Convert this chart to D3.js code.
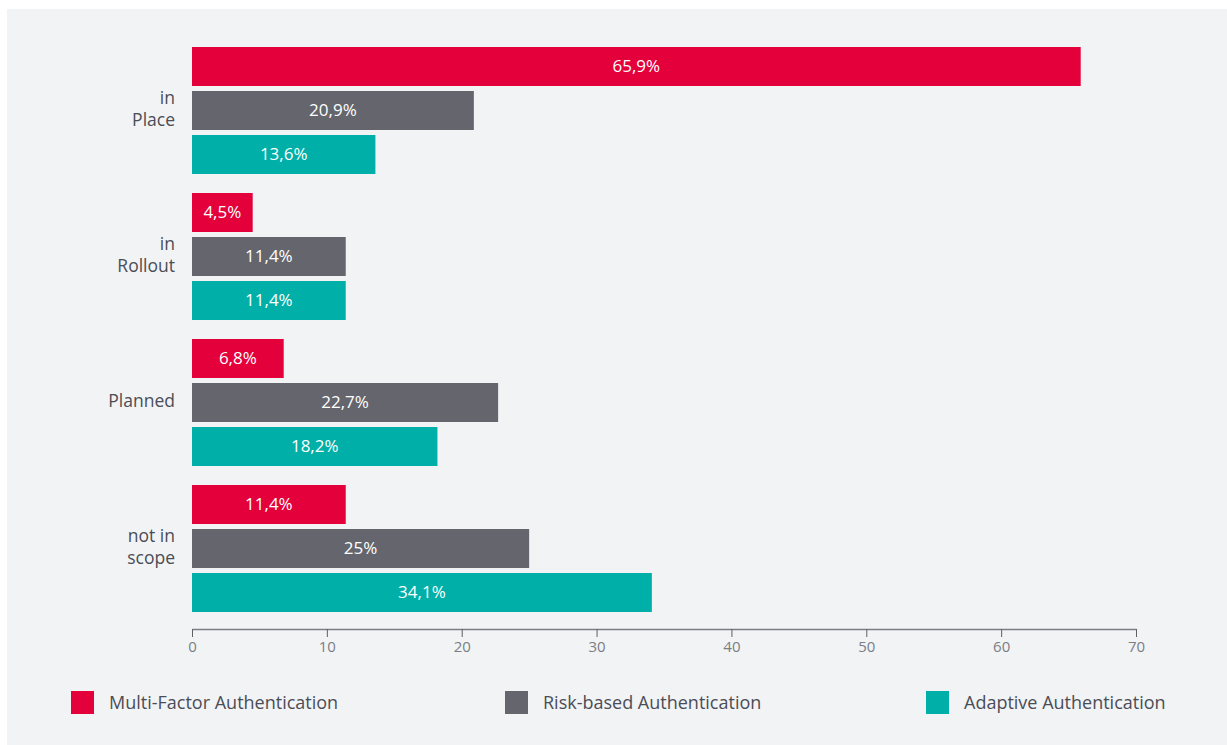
<!DOCTYPE html>
<html>
<head>
<meta charset="utf-8">
<script src="https://cdn.jsdelivr.net/npm/d3@7"></script>
<style>
  html, body { margin: 0; padding: 0; background: #ffffff; }
  svg { display: block; }
  text { font-family: "Open Sans", "Noto Sans", sans-serif; }
</style>
</head>
<body>
<svg id="chart" width="1227" height="745"></svg>
<script>
// Authentication adoption status, share of respondents (%)
const categories = [["in", "Place"], ["in", "Rollout"], ["Planned"], ["not in", "scope"]];
const seriesNames = ["Multi-Factor Authentication", "Risk-based Authentication", "Adaptive Authentication"];
const multiFactor = [65.9, 4.5, 6.8, 11.4];
const riskBased   = [20.9, 11.4, 22.7, 25];
const adaptive    = [13.6, 11.4, 18.2, 34.1];
const seriesColors = ["#e4003b", "#65656d", "#00b0a8"];
const xTicks = [0, 10, 20, 30, 40, 50, 60, 70];

const series = [multiFactor, riskBased, adaptive];
const fmt = v => String(v).replace(".", ",") + "%";

const svg = d3.select("#chart");

// panel background
svg.append("rect")
  .attr("x", 7).attr("y", 9)
  .attr("width", 1220).attr("height", 736)
  .attr("fill", "#f2f3f5");

const x = d3.scaleLinear().domain([0, 70]).range([192, 1136]);
const y0 = d3.scaleBand().domain(d3.range(categories.length)).range([41, 625]).paddingInner(0).paddingOuter(0);
const y1 = d3.scaleBand().domain(d3.range(series.length)).range([6, 133]).paddingInner(5 / 44);

const groups = svg.selectAll("g.group")
  .data(categories)
  .join("g")
  .attr("class", "group")
  .attr("transform", (d, i) => `translate(0,${y0(i)})`);

groups.each(function(cat, ci) {
  const g = d3.select(this);
  series.forEach((vals, si) => {
    const v = vals[ci];
    const yy = y1(si);
    g.append("rect")
      .attr("x", x(0))
      .attr("y", yy)
      .attr("width", x(v) - x(0))
      .attr("height", y1.bandwidth())
      .attr("fill", seriesColors[si]);
    g.append("text")
      .attr("x", (x(0) + x(v)) / 2)
      .attr("y", yy + y1.bandwidth() / 2)
      .attr("dy", "0.35em")
      .attr("text-anchor", "middle")
      .attr("fill", "#ffffff")
      .attr("font-size", 17)
      .text(fmt(v));
  });
  // category label, right aligned, vertically centred on the group
  const mid = y1(1) + y1.bandwidth() / 2 - 1.5;
  const lh = 22;
  const t = g.append("text")
    .attr("text-anchor", "end")
    .attr("fill", "#4a4d55")
    .attr("font-size", 17.5);
  cat.forEach((line, li) => {
    t.append("tspan")
      .attr("x", 175)
      .attr("y", mid + (li - (cat.length - 1) / 2) * lh)
      .attr("dy", "0.35em")
      .text(line);
  });
});

// x axis
const axis = svg.append("g")
  .attr("transform", "translate(0,629)")
  .call(d3.axisBottom(x).tickValues(xTicks).tickSize(8).tickSizeOuter(0).tickPadding(4));
axis.select(".domain").attr("stroke", "#7b7e85").attr("stroke-width", 1.5);
axis.selectAll(".tick line").attr("stroke", "#5d6067").attr("stroke-width", 1);
axis.selectAll(".tick text")
  .attr("fill", "#7b7e85")
  .attr("font-size", 15)
  .attr("font-family", "\"Open Sans\", sans-serif");

// legend
const legendX = [71, 505, 926];
const legend = svg.selectAll("g.legend")
  .data(seriesNames)
  .join("g")
  .attr("class", "legend")
  .attr("transform", (d, i) => `translate(${legendX[i]},691)`);
legend.append("rect")
  .attr("width", 23).attr("height", 23)
  .attr("fill", (d, i) => seriesColors[i]);
legend.append("text")
  .attr("x", 38)
  .attr("y", 12)
  .attr("dy", "0.35em")
  .attr("fill", "#4a4d55")
  .attr("font-size", 18)
  .text(d => d);
</script>
</body>
</html>
